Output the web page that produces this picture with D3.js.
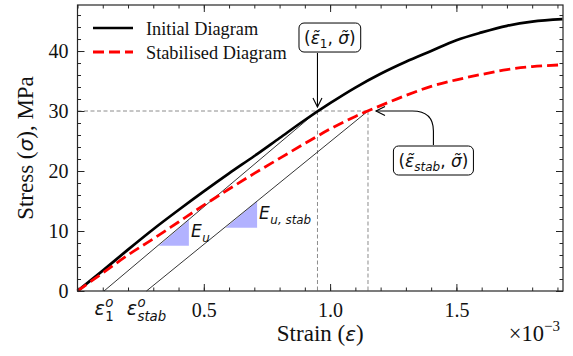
<!DOCTYPE html>
<html>
<head>
<meta charset="utf-8">
<title>Stress-strain diagrams</title>
<script src="https://cdnjs.cloudflare.com/ajax/libs/d3/7.8.5/d3.min.js"></script>
<style>
  body { margin: 0; background: #fff; }
</style>
</head>
<body>
<svg id="chart" width="573" height="356" font-family="Liberation Serif, Times New Roman, serif"></svg>
<script>
// curve values (strain in 1e-3, stress in MPa)
const strain        = [0, 0.1, 0.2, 0.3, 0.4, 0.5, 0.6, 0.7, 0.8, 0.9, 1.0, 1.1, 1.2, 1.3, 1.4, 1.5, 1.6, 1.7, 1.8, 1.92];
const initialStress = [0, 3.4, 6.9, 10.3, 13.5, 16.6, 19.6, 22.5, 25.5, 28.5, 31.3, 33.9, 36.2, 38.2, 40.0, 41.8, 43.1, 44.2, 44.9, 45.3];
const stabStress    = [0, 3.0, 6.0, 8.7, 11.5, 14.3, 17.0, 19.6, 22.1, 24.6, 27.0, 29.1, 30.9, 32.6, 34.1, 35.2, 36.1, 36.9, 37.4, 37.7];

const xTicks = [0.5, 1.0, 1.5];
const yTicks = [0, 10, 20, 30, 40];

// reference point and unloading lines
const sigmaTilde = 30;
const eps1Tilde = 0.95, epsStabTilde = 1.15;
const eps1o = 0.105, epsStabO = 0.273;

// slope triangles [x0, x1, yBottom, yTop]
const triU     = [0.322, 0.441, 7.55, 11.85];
const triUStab = [0.586, 0.711, 10.55, 14.95];

const legendNames = ["Initial Diagram", "Stabilised Diagram"];

const svg = d3.select("#chart");
const pLeft = 77.5, pRight = 563, pTop = 5, pBottom = 291;

const x = d3.scaleLinear().domain([0, 1.922]).range([pLeft, pRight]);
const y = d3.scaleLinear().domain([0, 47.67]).range([pBottom, pTop]);

const math = "DejaVu Sans";
const redDash = "11,5";

// arrow marker
svg.append("defs").append("marker")
    .attr("id", "arr")
    .attr("viewBox", "-10 -6 12 12")
    .attr("markerWidth", 12).attr("markerHeight", 12)
    .attr("markerUnits", "userSpaceOnUse")
    .attr("refX", 0).attr("refY", 0)
    .attr("orient", "auto")
  .append("path")
    .attr("d", "M-9,-4.5 L0,0 L-9,4.5")
    .attr("fill", "none").attr("stroke", "#000").attr("stroke-width", 1.1);

// gray dashed guide lines
const guide = svg.append("g").attr("stroke", "#8c8c8c").attr("stroke-width", 1).attr("stroke-dasharray", "4,2.5");
guide.append("line").attr("x1", x(0)).attr("x2", x(epsStabTilde)).attr("y1", y(sigmaTilde)).attr("y2", y(sigmaTilde));
[eps1Tilde, epsStabTilde].forEach(e => {
  guide.append("line").attr("x1", x(e)).attr("x2", x(e)).attr("y1", y(sigmaTilde)).attr("y2", y(0));
});

// triangles
[triU, triUStab].forEach(t => {
  svg.append("path")
    .attr("d", d3.line()([[x(t[0]), y(t[2])], [x(t[1]), y(t[2])], [x(t[1]), y(t[3])]]) + "Z")
    .attr("fill", "blue").attr("fill-opacity", 0.3);
});

// unloading lines
svg.append("g").attr("stroke", "#000").attr("stroke-width", 0.8)
  .selectAll("line")
  .data([[eps1o, eps1Tilde], [epsStabO, epsStabTilde]])
  .join("line")
    .attr("x1", d => x(d[0])).attr("y1", y(0))
    .attr("x2", d => x(d[1])).attr("y2", y(sigmaTilde));

// curves
const line = d3.line().x((d, i) => x(strain[i])).y(d => y(d)).curve(d3.curveMonotoneX);
svg.append("path").datum(initialStress).attr("d", line)
  .attr("fill", "none").attr("stroke", "#000").attr("stroke-width", 2.7);
svg.append("path").datum(stabStress).attr("d", line)
  .attr("fill", "none").attr("stroke", "#ff0000").attr("stroke-width", 2.8)
  .attr("stroke-dasharray", redDash);

// frame
svg.append("rect").attr("x", pLeft).attr("y", pTop).attr("width", pRight - pLeft).attr("height", pBottom - pTop)
  .attr("fill", "none").attr("stroke", "#262626").attr("stroke-width", 1.2);

// axes ticks (inward, all four sides)
function styleAxis(g) {
  g.select(".domain").remove();
  g.attr("font-family", "Liberation Serif").attr("font-size", 20).style("color", "#262626");
  g.selectAll("text").attr("fill", "#111");
}
const xMinor = d3.range(0, 19.5).map(i => i / 10);
const yMinor = d3.range(0, 48, 2);

svg.append("g").attr("transform", `translate(0,${pBottom})`)
  .call(d3.axisBottom(x).tickValues(xMinor).tickSize(-3.5).tickFormat("")).call(styleAxis);
svg.append("g").attr("transform", `translate(0,${pBottom})`)
  .call(d3.axisBottom(x).tickValues(xTicks).tickSize(-7).tickPadding(12).tickFormat(d3.format(".1f"))).call(styleAxis);
svg.append("g").attr("transform", `translate(0,${pTop})`)
  .call(d3.axisTop(x).tickValues(xMinor).tickSize(-3.5).tickFormat("")).call(styleAxis);
svg.append("g").attr("transform", `translate(0,${pTop})`)
  .call(d3.axisTop(x).tickValues(xTicks).tickSize(-7).tickFormat("")).call(styleAxis);

svg.append("g").attr("transform", `translate(${pLeft},0)`)
  .call(d3.axisLeft(y).tickValues(yMinor).tickSize(-3.5).tickFormat("")).call(styleAxis);
svg.append("g").attr("transform", `translate(${pLeft},0)`)
  .call(d3.axisLeft(y).tickValues(yTicks).tickSize(-7).tickPadding(9)).call(styleAxis);
svg.append("g").attr("transform", `translate(${pRight},0)`)
  .call(d3.axisRight(y).tickValues(yMinor).tickSize(-3.5).tickFormat("")).call(styleAxis);
svg.append("g").attr("transform", `translate(${pRight},0)`)
  .call(d3.axisRight(y).tickValues(yTicks).tickSize(-7).tickFormat("")).call(styleAxis);

// math label helper: base symbol with sub / sup stacked after it
function mathLabel(g, base, sub, sup, size, subItalic) {
  const b = g.append("text").attr("font-family", math).attr("font-style", "oblique")
    .attr("font-size", size).attr("fill", "#111").text(base);
  const w = b.node().getComputedTextLength();
  if (sub) g.append("text").attr("x", w + 0.5).attr("y", size * 0.3)
    .attr("font-family", math).attr("font-style", subItalic ? "oblique" : "normal")
    .attr("font-size", size * 0.7).attr("fill", "#111").text(sub);
  if (sup) g.append("text").attr("x", w + 0.5).attr("y", -size * 0.42)
    .attr("font-family", math).attr("font-style", "oblique")
    .attr("font-size", size * 0.7).attr("fill", "#111").text(sup);
  return g;
}

// epsilon_o labels under the axis, centred at their strain values
[[eps1o, "1", false], [epsStabO, "stab", true]].forEach(([e, s, it]) => {
  const g = svg.append("g");
  mathLabel(g, "\u03B5", s, "o", 19, it);
  const bb = g.node().getBBox();
  g.attr("transform", `translate(${x(e) - bb.width / 2},315)`);
});

// E labels next to triangles
[[triU, "u"], [triUStab, "u, stab"]].forEach(([t, s]) => {
  const g = svg.append("g").attr("transform", `translate(${x(t[1]) + 2},${y(t[2]) - 8.5})`);
  mathLabel(g, "E", s, null, 17, true);
});

// axis labels
svg.append("text").attr("x", (pLeft + pRight) / 2).attr("y", 341).attr("text-anchor", "middle")
  .attr("font-size", 23).attr("fill", "#111")
  .call(t => {
    t.append("tspan").text("Strain (");
    t.append("tspan").attr("font-family", math).attr("font-style", "oblique").attr("font-size", 20).text("\u03B5");
    t.append("tspan").text(")");
  });
svg.append("text").attr("transform", `translate(33,${(pTop + pBottom) / 2}) rotate(-90)`)
  .attr("text-anchor", "middle").attr("font-size", 23).attr("fill", "#111")
  .call(t => {
    t.append("tspan").text("Stress (");
    t.append("tspan").attr("font-family", math).attr("font-style", "oblique").attr("font-size", 20).text("\u03C3");
    t.append("tspan").text("), MPa");
  });

// offset text
svg.append("text").attr("x", pRight - 3).attr("y", 341).attr("text-anchor", "end")
  .attr("font-size", 22.5).attr("fill", "#111")
  .call(t => {
    t.append("tspan").text("\u00D710");
    t.append("tspan").attr("dy", -10).attr("font-size", 15).text("\u22123");
  });

// legend
const leg = svg.append("g");
legendNames.forEach((name, i) => {
  const yy = 28 + i * 24;
  leg.append("line").attr("x1", 93).attr("x2", 133).attr("y1", yy).attr("y2", yy)
    .attr("stroke", i ? "#ff0000" : "#000").attr("stroke-width", i ? 2.8 : 2.7)
    .attr("stroke-dasharray", i ? redDash : null);
  leg.append("text").attr("x", 146).attr("y", yy + 6.5).attr("font-size", 18.3).attr("fill", "#111").text(name);
});

// annotation boxes
function annot(cx, cy, subText) {
  const g = svg.append("g");
  const t = g.append("text").attr("x", cx).attr("y", cy + 6).attr("text-anchor", "middle")
    .attr("font-family", math).attr("font-size", 17).attr("fill", "#111");
  t.append("tspan").text("(");
  t.append("tspan").attr("font-style", "oblique").text("\u03B5\u0303");
  t.append("tspan").attr("dy", 4).attr("font-size", 12).attr("font-style", subText === "1" ? "normal" : "oblique").text(subText);
  t.append("tspan").attr("dy", -4).text(", ");
  t.append("tspan").attr("font-style", "oblique").text("\u03C3\u0303");
  t.append("tspan").text(")");
  const bb = t.node().getBBox();
  g.insert("rect", "text")
    .attr("x", bb.x - 5).attr("y", cy - 14.5).attr("width", bb.width + 10).attr("height", 29)
    .attr("rx", 5).attr("fill", "#fff").attr("stroke", "#000").attr("stroke-width", 1);
  return {x: bb.x - 5, w: bb.width + 10, top: cy - 14.5, bot: cy + 14.5};
}
const b1 = annot(x(0.999), y(42.25), "1");
const b2 = annot(x(1.409), y(21.75), "stab");

// arrows to the reference points
svg.append("path")
  .attr("d", `M${x(eps1Tilde)},${b1.bot + 1} L${x(eps1Tilde)},${y(sigmaTilde) - 4}`)
  .attr("fill", "none").attr("stroke", "#000").attr("stroke-width", 1.1).attr("marker-end", "url(#arr)");
const ax = x(1.409), py = y(sigmaTilde);
svg.append("path")
  .attr("d", `M${ax},${b2.top - 1} L${ax},${py + 20} Q${ax},${py} ${ax - 21},${py} L${x(epsStabTilde) + 8},${py}`)
  .attr("fill", "none").attr("stroke", "#000").attr("stroke-width", 1.1).attr("marker-end", "url(#arr)");
</script>
</body>
</html>
